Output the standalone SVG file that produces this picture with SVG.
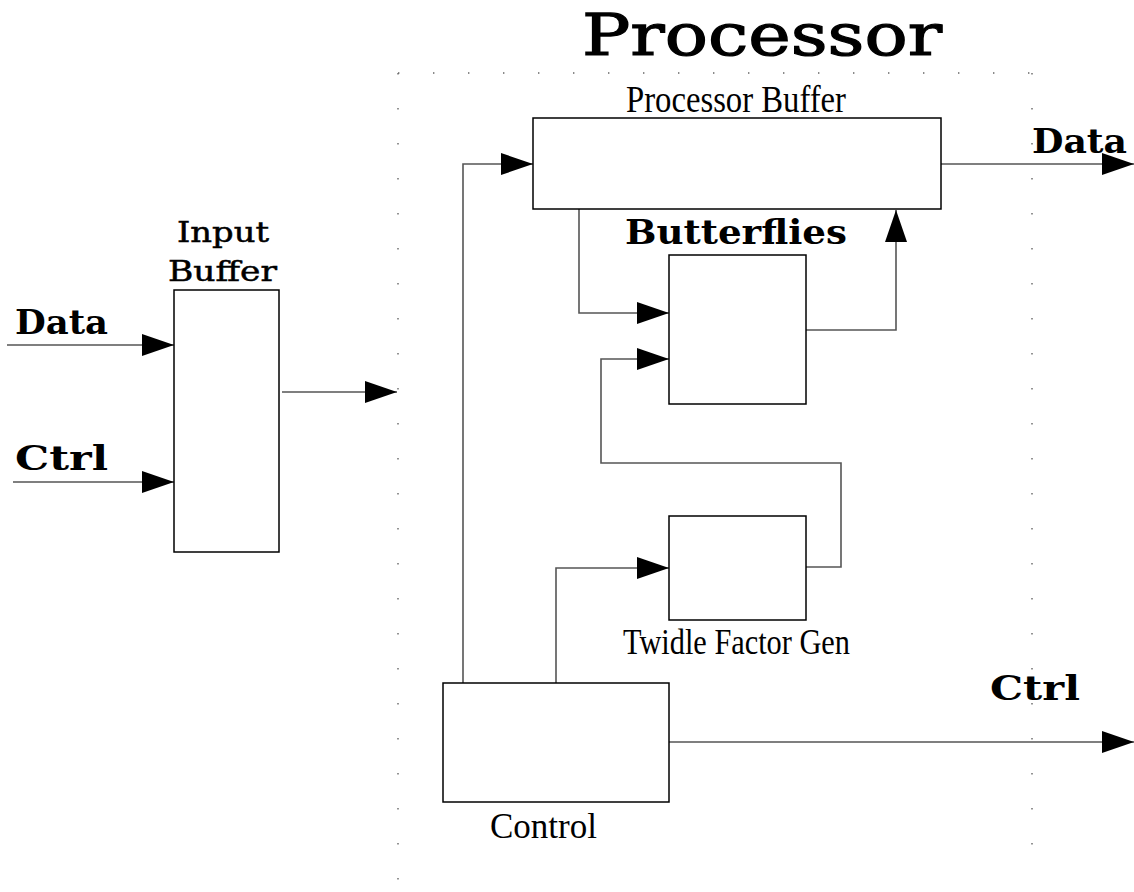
<svg xmlns="http://www.w3.org/2000/svg" width="1134" height="892" viewBox="0 0 1134 892">
<style>
.box{fill:#fff;stroke:#000;stroke-width:1.5}
.wire{fill:none;stroke:#555;stroke-width:1.6}
.dots{fill:none;stroke:#666;stroke-width:1.4;stroke-dasharray:1.4 33.6}
.bold{font-family:"DejaVu Serif","Liberation Serif",serif;font-weight:bold;fill:#000}
.reg{font-family:"DejaVu Serif","Liberation Serif",serif;fill:#000}
.cond{font-family:"Liberation Serif","DejaVu Serif",serif;fill:#000}
</style>
<defs>
<marker id="ah" markerUnits="userSpaceOnUse" markerWidth="32" markerHeight="22" refX="32" refY="11" orient="auto">
<path d="M0,0 L32,11 L0,22 Z" fill="#000"/>
</marker>
</defs>
<rect width="1134" height="892" fill="#fff"/>
<g id="frame">
<path class="dots" d="M398,73 H1034"/>
<path class="dots" d="M398,73 V892"/>
<path class="dots" d="M1032,73 V870"/>
</g>
<text class="reg" x="582" y="55" font-size="58" textLength="360" lengthAdjust="spacingAndGlyphs" style="stroke:#000;stroke-width:1.2">Processor</text>
<g id="connectors">
<path class="wire" d="M7,345 H174" marker-end="url(#ah)"/>
<path class="wire" d="M13,482 H174" marker-end="url(#ah)"/>
<path class="wire" d="M282,392 H397" marker-end="url(#ah)"/>
<path class="wire" d="M463,683 V164 H533" marker-end="url(#ah)"/>
<path class="wire" d="M941,164 H1134" marker-end="url(#ah)"/>
<path class="wire" d="M579,209 V313 H669" marker-end="url(#ah)"/>
<path class="wire" d="M806,330 H896 V210" marker-end="url(#ah)"/>
<path class="wire" d="M806,567 H841 V463 H601 V359 H669" marker-end="url(#ah)"/>
<path class="wire" d="M556,683 V568 H669" marker-end="url(#ah)"/>
<path class="wire" d="M669,742 H1134" marker-end="url(#ah)"/>
</g>
<g id="labels-io">
<text class="bold" x="15" y="334" font-size="33" textLength="93" lengthAdjust="spacingAndGlyphs">Data</text>
<text class="bold" x="15" y="470" font-size="33" textLength="93" lengthAdjust="spacingAndGlyphs">Ctrl</text>
<text class="bold" x="1032" y="153" font-size="33" textLength="95" lengthAdjust="spacingAndGlyphs">Data</text>
<text class="bold" x="990" y="700" font-size="33" textLength="90" lengthAdjust="spacingAndGlyphs">Ctrl</text>
</g>
<g id="input-buffer">
<rect class="box" x="174" y="290" width="105" height="262"/>
<text class="reg" x="177" y="242" font-size="28" textLength="92" lengthAdjust="spacingAndGlyphs" style="stroke:#000;stroke-width:0.5">Input</text>
<text class="reg" x="168" y="281" font-size="28" textLength="109" lengthAdjust="spacingAndGlyphs" style="stroke:#000;stroke-width:0.5">Buffer</text>
</g>
<g id="processor-buffer">
<rect class="box" x="533" y="118" width="408" height="91"/>
<text class="cond" x="626" y="112" font-size="37" textLength="220" lengthAdjust="spacingAndGlyphs">Processor Buffer</text>
</g>
<g id="butterflies">
<rect class="box" x="669" y="255" width="137" height="149"/>
<text class="bold" x="625" y="244" font-size="33" textLength="222" lengthAdjust="spacingAndGlyphs">Butterflies</text>
</g>
<g id="twidle">
<rect class="box" x="669" y="516" width="137" height="104"/>
<text class="cond" x="623" y="654" font-size="36" textLength="227" lengthAdjust="spacingAndGlyphs">Twidle Factor Gen</text>
</g>
<g id="control">
<rect class="box" x="443" y="683" width="226" height="119"/>
<text class="cond" x="490" y="838" font-size="36" textLength="107" lengthAdjust="spacingAndGlyphs">Control</text>
</g>
</svg>
